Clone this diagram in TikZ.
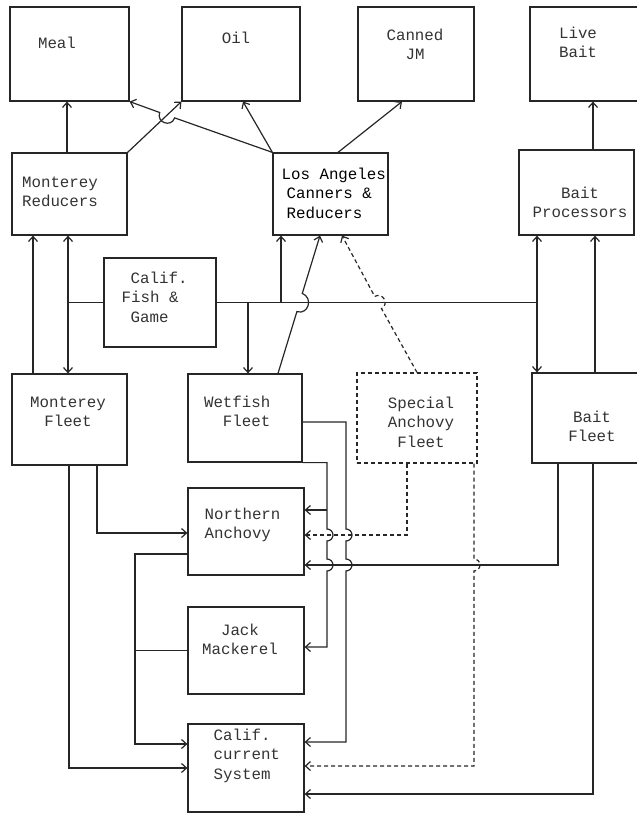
\documentclass[tikz,border=0pt]{standalone}
\usepackage{fontspec}
\setmainfont{Liberation Mono}
\usetikzlibrary{arrows.meta}
\tikzset{box/.style={draw,inner sep=0pt},
         dbox/.style={box,dash pattern=on 4pt off 3pt},
         txt/.style={font=\fontsize{15.8}{19.5}\selectfont,inner sep=0pt,align=center,anchor=north,text=black!80},
         arr/.style={-{Straight Barb[length=5pt,width=9pt]}},
         arr2/.style={{Straight Barb[length=5pt,width=9pt]}-{Straight Barb[length=5pt,width=9pt]}},
         dsh/.style={dash pattern=on 4pt off 3pt}}

\begin{document}
\begin{tikzpicture}[x=1pt,y=-1pt,line width=1.2pt,draw=black!85]
\useasboundingbox (0,0) rectangle (637,814);
% products
\node[box,minimum width=119pt,minimum height=94pt] (meal) at (69.5,54) {};
\node[box,minimum width=118pt,minimum height=94pt] (oil) at (241,54) {};
\node[box,minimum width=116pt,minimum height=94pt] (cjm) at (416,54) {};
\node[box,minimum width=115pt,minimum height=94pt] (lbait) at (587.5,54) {};
% processors
\node[box,minimum width=115pt,minimum height=82pt] (mred) at (69.5,194) {};
\node[box,minimum width=115pt,minimum height=82pt] (la) at (330.5,194) {};
\node[box,minimum width=115pt,minimum height=85pt] (bproc) at (576.5,192.5) {};
\node[box,minimum width=112pt,minimum height=89pt] (cfg) at (160,302.5) {};
% fleets
\node[box,minimum width=115pt,minimum height=91pt] (mfleet) at (69.5,419.5) {};
\node[box,minimum width=114pt,minimum height=88pt] (wfleet) at (245,418) {};
\node[dbox,minimum width=120pt,minimum height=90pt] (safleet) at (417,418) {};
\node[box,minimum width=113pt,minimum height=90pt] (bfleet) at (588.5,418) {};
% stocks
\node[box,minimum width=116pt,minimum height=87pt] (nanch) at (246,531.5) {};
\node[box,minimum width=116pt,minimum height=87pt] (jmack) at (246,650.5) {};
\node[box,minimum width=116pt,minimum height=88pt] (ccs) at (246,768) {};

% texts
\node[txt] (meal-t) at (57,36) {Meal};
\node[txt] (oil-t) at (236,31) {Oil};
\node[txt] (cjm-t) at (415,28) {Canned\\JM};
\node[txt] (lbait-t) at (578,26) {Live\\Bait};
\node[txt] (mred-t) at (60,176) {Monterey\\Reducers};
\node[txt,align=left,anchor=north west,text=black] (la-t) at (281,167)
  {Los Angeles\\\hspace*{5pt}Canners \&\\\hspace*{5pt}Reducers};
\node[txt] (bproc-t) at (580,186) {Bait\\Processors};
\node[txt,align=left,anchor=north west] (cfg-t) at (121,271)
  {\hspace*{9pt}Calif.\\Fish \&\\\hspace*{9pt}Game};
\node[txt] (mfleet-t) at (68,396) {Monterey\\Fleet};
\node[txt,align=right,anchor=north east] (wfleet-t) at (271,395) {Wetfish\\Fleet};
\node[txt] (safleet-t) at (421,396) {Special\\Anchovy\\Fleet};
\node[txt] (bfleet-t) at (592,410) {Bait\\Fleet};
\node[txt,align=left,anchor=north west] (nanch-t) at (204,507) {Northern\\Anchovy};
\node[txt] (jmack-t) at (240,623) {Jack\\Mackerel};
\node[txt,align=left,anchor=north west] (ccs-t) at (213,728) {Calif.\\current\\System};

% junctions
\coordinate (wf-na) at (327,510);

% to the products
\draw[arr] (67,0 |- mred.north) -- (67,0 |- meal.south);
\draw[arr] (mred.north east) -- (oil.south west);
\draw[arr] (la.north west) -- (174.7,117.9)
  .. controls (171.1,127.9) and (156.1,122.5) .. (159.7,112.5) -- (meal.south east);
\draw[arr] (la.north west) -- (243,0 |- oil.south);
\draw[arr] (338,0 |- la.north) -- (402,0 |- cjm.south);
\draw[arr] (593,0 |- bproc.north) -- (593,0 |- lbait.south);

% fleets to processors
\draw[arr] (33,0 |- mfleet.north) -- (33,0 |- mred.south);
\draw[arr2] (68,0 |- mred.south) -- (68,0 |- mfleet.north);
\draw (cfg.west) -- (68,0 |- cfg.west);
\draw (cfg.east) -- (537,0 |- cfg.east);
\draw[arr] (248,0 |- cfg.east) -- (248,0 |- wfleet.north);
\draw[arr] (281,0 |- cfg.east) -- (281,0 |- la.south);
\draw[arr] (278,0 |- wfleet.north) -- (296.9,311.6)
  .. controls (308.4,315.1) and (313.5,297.9) .. (302.3,293.4) -- (320,0 |- la.south);
\draw[arr,dsh] (417,0 |- safleet.north) -- (381.5,308.6)
  .. controls (389.7,304.1) and (382.9,291.9) .. (374.7,296.4) -- (342,0 |- la.south);
\draw[arr2] (537,0 |- bproc.south) -- (537,0 |- bfleet.north);
\draw[arr] (595,0 |- bfleet.north) -- (595,0 |- bproc.south);

% fleets to stocks
\draw[arr] (97,0 |- mfleet.south) |- (nanch.west |- 0,533);
\draw[arr] (69,0 |- mfleet.south) |- (ccs.west);
\draw[arr] (nanch.west |- 0,554) -- (135,554) -- (135,744) -- (ccs.west |- 0,744);
\draw (jmack.west) -- (135,0 |- jmack.west);
\draw[arr] (wfleet.east |- 0,422) -- (346,422) -- (346,529)
  arc[start angle=-90,end angle=90,radius=6] -- (346,559)
  arc[start angle=-90,end angle=90,radius=6] -- (346,742) -- (ccs.east |- 0,742);
\draw[arr] (wfleet.south east) -- (327,0 |- wfleet.south east) -- (327,529)
  arc[start angle=-90,end angle=90,radius=6] -- (327,559)
  arc[start angle=-90,end angle=90,radius=6] -- (327,647) -- (jmack.east |- 0,647);
\draw[arr] (wf-na) -- (nanch.east |- wf-na);
\draw[arr,dsh] (407,0 |- safleet.south) |- (nanch.east |- 0,535);
\draw[arr,dsh] (474,0 |- safleet.south) -- (474,559)
  arc[start angle=-90,end angle=90,radius=6] -- (474,766) -- (ccs.east |- 0,766);
\draw[arr] (558,0 |- bfleet.south) |- (nanch.east |- 0,565);
\draw[arr] (593,0 |- bfleet.south) |- (ccs.east |- 0,794);
\end{tikzpicture}
\end{document}
